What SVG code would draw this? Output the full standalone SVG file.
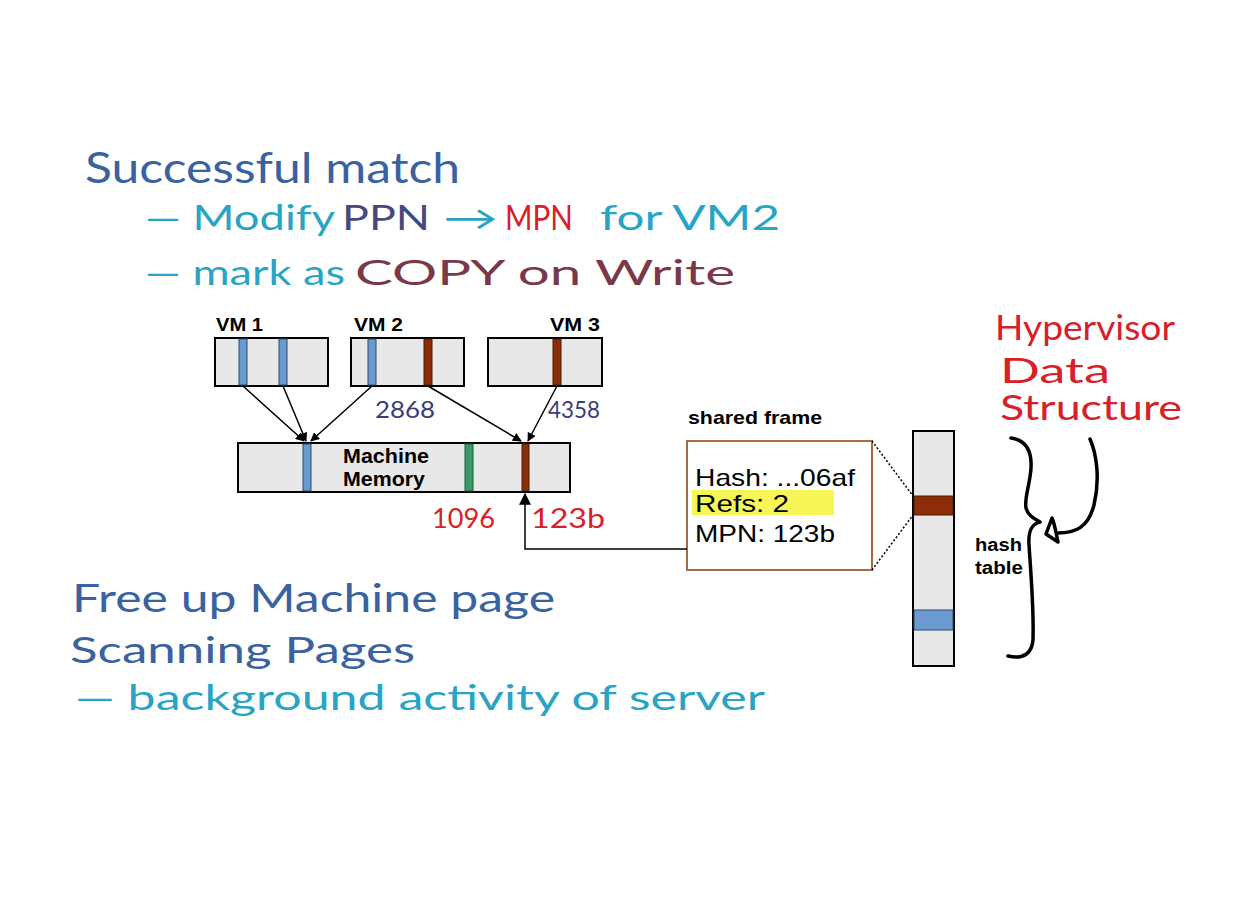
<svg xmlns="http://www.w3.org/2000/svg" width="1234" height="909" viewBox="0 0 1234 909">
<defs>
<style>
.hw{font-family:"Lato","Open Sans",sans-serif;}
.lbl{font-family:"Liberation Sans",Arial,sans-serif;font-weight:bold;fill:#000;}
.reg{font-family:"Liberation Sans",Arial,sans-serif;fill:#000;}
.box{fill:#e8e8e8;stroke:#000;stroke-width:2;}
.blue{fill:#6a9ad0;stroke:#2a4a70;stroke-width:1;}
.brown{fill:#8c2c08;stroke:#4a1a00;stroke-width:1;}
.green{fill:#3a9a6a;stroke:#1a5a3a;stroke-width:1;}
.conn{stroke:#000;stroke-width:1.5;fill:none;}
.ink{stroke:#000;stroke-width:3.5;fill:none;stroke-linecap:round;stroke-linejoin:round;}
</style>
<marker id="ah" viewBox="0 0 10 10" refX="9" refY="5" markerWidth="9" markerHeight="9" markerUnits="userSpaceOnUse" orient="auto">
<path d="M0,0 L10,5 L0,10 z" fill="#000"/>
</marker>
<marker id="ah2" viewBox="0 0 10 10" refX="9" refY="5" markerWidth="12" markerHeight="12" markerUnits="userSpaceOnUse" orient="auto">
<path d="M0,0 L10,5 L0,10 z" fill="#000"/>
</marker>
</defs>
<rect width="1234" height="909" fill="#fff"/>

<g id="notes-top">
<text class="hw" x="85" y="183" font-size="42" fill="#3a62a0" textLength="375" lengthAdjust="spacingAndGlyphs">Successful match</text>
<text class="hw" x="145" y="230" font-size="34" fill="#2aa4c4" textLength="190" lengthAdjust="spacingAndGlyphs">— Modify</text>
<text class="hw" x="342" y="230" font-size="34" fill="#46487e" textLength="88" lengthAdjust="spacingAndGlyphs">PPN</text>
<text class="hw" x="443" y="230" font-size="34" fill="#2aa4c4" textLength="55" lengthAdjust="spacingAndGlyphs">→</text>
<text class="hw" x="505" y="230" font-size="34" fill="#d82028" textLength="68" lengthAdjust="spacingAndGlyphs">MPN</text>
<text class="hw" x="600" y="230" font-size="34" fill="#2aa4c4" textLength="180" lengthAdjust="spacingAndGlyphs">for VM2</text>
<text class="hw" x="145" y="285" font-size="34" fill="#2aa4c4" textLength="200" lengthAdjust="spacingAndGlyphs">— mark as</text>
<text class="hw" x="355" y="285" font-size="34" fill="#7a3848" textLength="380" lengthAdjust="spacingAndGlyphs">COPY on Write</text>
</g>

<g id="vm1">
<text class="lbl" x="216" y="331" font-size="19" textLength="47" lengthAdjust="spacingAndGlyphs">VM 1</text>
<rect class="box" x="215" y="338" width="113" height="48"/>
<rect class="blue" x="239" y="339" width="8" height="46"/>
<rect class="blue" x="279" y="339" width="8" height="46"/>
</g>
<g id="vm2">
<text class="lbl" x="354" y="331" font-size="19" textLength="49" lengthAdjust="spacingAndGlyphs">VM 2</text>
<rect class="box" x="351" y="338" width="113" height="48"/>
<rect class="blue" x="368" y="339" width="8" height="46"/>
<rect class="brown" x="424" y="339" width="8" height="46"/>
</g>
<g id="vm3">
<text class="lbl" x="550" y="331" font-size="19" textLength="50" lengthAdjust="spacingAndGlyphs">VM 3</text>
<rect class="box" x="488" y="338" width="114" height="48"/>
<rect class="brown" x="553" y="339" width="8" height="46"/>
</g>

<g id="machine-memory">
<rect class="box" x="238" y="443" width="332" height="49"/>
<rect class="blue" x="303" y="444" width="8" height="47"/>
<rect class="green" x="465" y="444" width="8" height="47"/>
<rect class="brown" x="522" y="444" width="7" height="47"/>
<text class="lbl" x="386" y="463" font-size="20" text-anchor="middle" textLength="86" lengthAdjust="spacingAndGlyphs">Machine</text>
<text class="lbl" x="384" y="486" font-size="20" text-anchor="middle" textLength="82" lengthAdjust="spacingAndGlyphs">Memory</text>
</g>

<g id="shared-frame">
<text class="lbl" x="688" y="424" font-size="19" textLength="134" lengthAdjust="spacingAndGlyphs">shared frame</text>
<rect x="687" y="441" width="185" height="129" fill="#fff" stroke="#a86a40" stroke-width="2"/>
<rect x="692" y="490" width="142" height="25" fill="#f4f43a" opacity="0.85"/>
<text class="reg" x="695" y="486" font-size="24" textLength="160" lengthAdjust="spacingAndGlyphs">Hash: ...06af</text>
<text class="reg" x="695" y="512" font-size="24" fill="#6a6a10" textLength="94" lengthAdjust="spacingAndGlyphs">Refs:  2</text>
<text class="reg" x="695" y="542" font-size="24" textLength="140" lengthAdjust="spacingAndGlyphs">MPN:  123b</text>
</g>

<g id="hash-table">
<rect class="box" x="913" y="431" width="41" height="235"/>
<rect class="brown" x="914" y="496" width="39" height="19"/>
<rect class="blue" x="914" y="610" width="39" height="20"/>
<text class="lbl" x="975" y="551" font-size="18" textLength="47" lengthAdjust="spacingAndGlyphs">hash</text>
<text class="lbl" x="975" y="574" font-size="18" textLength="48" lengthAdjust="spacingAndGlyphs">table</text>
</g>

<g id="connectors">
<line class="conn" x1="243" y1="386" x2="304" y2="441" marker-end="url(#ah)"/>
<line class="conn" x1="283" y1="386" x2="306" y2="441" marker-end="url(#ah)"/>
<line class="conn" x1="372" y1="386" x2="311" y2="441" marker-end="url(#ah)"/>
<line class="conn" x1="428" y1="386" x2="521" y2="441" marker-end="url(#ah)"/>
<line class="conn" x1="557" y1="386" x2="528" y2="441" marker-end="url(#ah)"/>
<polyline class="conn" points="687,549 525,549 525,494" marker-end="url(#ah2)"/>
<line x1="872" y1="441" x2="913" y2="496" stroke="#000" stroke-width="1.5" stroke-dasharray="2,2"/>
<line x1="872" y1="570" x2="913" y2="515" stroke="#000" stroke-width="1.5" stroke-dasharray="2,2"/>
</g>

<g id="annotations">
<text class="hw" x="375" y="418" font-size="24" fill="#3a3c7a" textLength="60" lengthAdjust="spacingAndGlyphs">2868</text>
<text class="hw" x="548" y="418" font-size="24" fill="#3a3c7a" textLength="52" lengthAdjust="spacingAndGlyphs">4358</text>
<text class="hw" x="432" y="528" font-size="26" fill="#d82028" textLength="63" lengthAdjust="spacingAndGlyphs">1096</text>
<text class="hw" x="531" y="528" font-size="26" fill="#d82028" textLength="74" lengthAdjust="spacingAndGlyphs">123b</text>
<text class="hw" x="995" y="340" font-size="34" fill="#d82028" textLength="180" lengthAdjust="spacingAndGlyphs">Hypervisor</text>
<text class="hw" x="1000" y="383" font-size="34" fill="#d82028" textLength="110" lengthAdjust="spacingAndGlyphs">Data</text>
<text class="hw" x="1000" y="420" font-size="34" fill="#d82028" textLength="182" lengthAdjust="spacingAndGlyphs">Structure</text>
<path class="ink" d="M1011,438 C1025,440 1032,450 1031,468 C1030,485 1024,498 1026,508 C1028,516 1035,519 1040,522 C1032,524 1028,530 1029,545 C1031,575 1034,610 1033,640 C1032,652 1025,660 1008,656"/>
<path class="ink" d="M1090,439 C1097,455 1100,480 1094,505 C1088,528 1075,533 1058,533"/>
<path class="ink" d="M1052,518 L1046,534 L1058,542 C1056,533 1055,525 1052,518 z"/>
</g>

<g id="notes-bottom">
<text class="hw" x="72" y="612" font-size="38" fill="#3a62a0" textLength="483" lengthAdjust="spacingAndGlyphs">Free up Machine page</text>
<text class="hw" x="70" y="663" font-size="36" fill="#3a62a0" textLength="345" lengthAdjust="spacingAndGlyphs">Scanning Pages</text>
<text class="hw" x="75" y="710" font-size="35" fill="#2aa4c4" textLength="690" lengthAdjust="spacingAndGlyphs">— background activity of server</text>
</g>
</svg>
